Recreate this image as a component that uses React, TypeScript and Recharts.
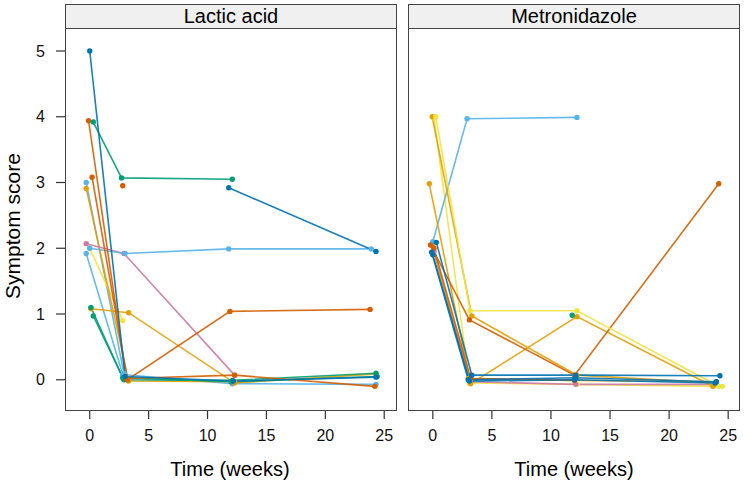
import { FC } from 'react';
import { LineChart, Line, XAxis, YAxis } from 'recharts';

// Okabe-Ito colours used by the original plot
const blue = '#0072B2';
const vermillion = '#D55E00';
const green = '#009E73';
const sky = '#56B4E9';
const orange = '#E69F00';
const yellow = '#F0E442';
const pink = '#CC79A7';

const xTicks = [0, 5, 10, 15, 20, 25];
const yTicks = [0, 1, 2, 3, 4, 5];
const panelNames = ['Lactic acid', 'Metronidazole'];

// [week, score] per subject — Lactic acid arm
const la01 = [[0.0, 5.0], [3.0, 0.05], [12.2, -0.02], [24.3, 0.04]];
const la02 = [[-0.1, 3.94], [3.1, 0.02], [12.3, 0.07], [24.2, -0.1]];
const la03 = [[0.3, 3.92], [2.7, 3.07], [12.1, 3.05]];
const la04 = [[0.2, 3.08], [3.2, 0.0], [11.9, 1.04], [23.8, 1.07]];
const la05 = [[-0.3, 3.0], [2.9, 0.1]];
const la06 = [[-0.3, 2.91], [3.3, -0.02], [12.3, -0.03]];
const la07 = [[-0.3, 2.07], [2.9, 1.92], [12.3, 0.07]];
const la08 = [[0.0, 2.0], [2.8, 0.9]];
const la09 = [[0.0, 2.0], [3.0, 1.92], [11.8, 1.99], [23.9, 1.99]];
const la10 = [[-0.3, 1.92], [2.8, 0.08], [12.1, -0.06], [24.3, -0.07]];
const la11 = [[0.1, 1.1], [2.8, 0.03], [12.0, -0.03], [24.4, 0.05]];
const la12 = [[0.1, 1.08], [3.3, 1.02], [12.3, -0.05], [24.3, 0.09]];
const la13 = [[0.3, 0.97], [2.9, 0.0], [12.1, -0.01], [24.3, 0.1]];
const la14 = [[11.8, 2.92], [24.3, 1.95]];
const la15 = [[2.8, 2.95]];

// Metronidazole arm
const me01 = [[0.25, 4.0], [3.15, 1.05], [12.2, 1.05], [24.2, -0.1]];
const me02 = [[-0.05, 4.0], [3.3, 0.97], [12.2, 0.07], [24.0, -0.05]];
const me03 = [[0.1, 3.98], [3.1, -0.05], [12.2, -0.07], [24.5, -0.1]];
const me04 = [[-0.3, 2.98], [3.2, -0.06], [12.2, 0.96], [23.7, -0.1]];
const me05 = [[0.0, 2.1], [2.9, 3.97], [12.2, 3.99]];
const me06 = [[0.3, 2.09], [3.3, 0.07], [12.1, 0.07], [24.3, 0.06]];
const me07 = [[-0.2, 2.05], [3.1, 0.91], [12.0, 0.07], [24.2, 2.98]];
const me08 = [[0.0, 2.03], [3.0, 0.02], [12.0, -0.01], [24.0, -0.03]];
const me09 = [[-0.1, 1.94], [3.0, 0.0], [12.1, 0.03], [24.0, -0.03]];
const me10 = [[0.0, 1.9], [3.1, -0.02], [12.0, 0.0], [23.9, -0.05]];
const me11 = [[0.1, 1.95], [3.2, -0.03], [12.1, -0.07], [24.0, -0.07]];
const me12 = [[11.8, 0.98]];
const me13 = [[0.1, 2.0], [3.2, 0.02], [12.0, -0.01]];

const lactic = [
  { c: sky, p: la10 }, { c: sky, p: la05 }, { c: yellow, p: la08 },
  { c: orange, p: la06 }, { c: orange, p: la12 }, { c: pink, p: la07 },
  { c: sky, p: la09 }, { c: green, p: la11 }, { c: green, p: la13 },
  { c: vermillion, p: la04 }, { c: vermillion, p: la02 }, { c: vermillion, p: la15 },
  { c: green, p: la03 }, { c: blue, p: la14 }, { c: blue, p: la01 },
];

const metro = [
  { c: yellow, p: me03 }, { c: pink, p: me11 }, { c: orange, p: me08 },
  { c: sky, p: me05 }, { c: orange, p: me04 }, { c: orange, p: me02 },
  { c: vermillion, p: me13 }, { c: vermillion, p: me07 }, { c: green, p: me12 },
  { c: yellow, p: me01 }, { c: blue, p: me09 }, { c: blue, p: me10 },
  { c: blue, p: me06 },
];

const font = '"Liberation Sans", Arial, sans-serif';
const xDomain = [-2.1, 26];
const yDomain = [-0.46, 5.35];

const Panel: FC<{ series: typeof lactic; left: number; width: number; showY: boolean; idx: string }> = ({ series, left, width, showY, idx }) => (
  <div style={{ position: 'absolute', left, top: 0 }}>
    <LineChart width={width} height={484} margin={{ top: 28, right: 4, bottom: 0, left: 0 }}>
      <XAxis
        type="number"
        dataKey="t"
        domain={xDomain}
        ticks={xTicks}
        allowDataOverflow
        height={74}
        axisLine={false}
        tickSize={9}
        tickMargin={11}
        tickLine={{ stroke: '#333', strokeWidth: 1.2 }}
        tick={{ fill: '#111', fontSize: 16, fontFamily: font }}
      />
      <YAxis
        type="number"
        domain={yDomain}
        ticks={yTicks}
        allowDataOverflow
        hide={!showY}
        width={65}
        axisLine={false}
        tickSize={9}
        tickMargin={11}
        tickLine={{ stroke: '#333', strokeWidth: 1.2 }}
        tick={{ fill: '#111', fontSize: 16, fontFamily: font }}
      />
      {series.map((s, i) => (
        <Line
          key={idx + i}
          data={s.p.map(([t, y]) => ({ t, y }))}
          dataKey="y"
          type="linear"
          stroke={s.c}
          strokeWidth={1.6}
          strokeOpacity={0.9}
          dot={{ r: 2.7, fill: s.c, stroke: s.c, strokeWidth: 0 }}
          isAnimationActive={false}
        />
      ))}
    </LineChart>
  </div>
);

const Frame: FC<{ left: number; title: string }> = ({ left, title }) => (
  <>
    <div style={{
      position: 'absolute', left, top: 4, width: 332, height: 407, boxSizing: 'border-box',
      border: '1.5px solid #444', pointerEvents: 'none',
    }} />
    <div style={{
      position: 'absolute', left, top: 4, width: 332, height: 25, boxSizing: 'border-box',
      border: '1.5px solid #444', background: '#F0F0F0', textAlign: 'center',
      fontFamily: font, fontSize: 20, lineHeight: '22px', color: '#000',
    }}>{title}</div>
  </>
);

export default function App() {
  return (
    <div style={{ position: 'absolute', left: 0, top: 0, width: 744, height: 484, background: '#fff', overflow: 'hidden' }}>
      <Panel series={lactic} left={0} width={400} showY idx="la" />
      <Panel series={metro} left={408} width={336} showY={false} idx="me" />
      <Frame left={65} title={panelNames[0]} />
      <Frame left={408} title={panelNames[1]} />
      <svg width={744} height={484} style={{ position: 'absolute', left: 0, top: 0, pointerEvents: 'none' }}>
        <text x={230} y={476} textAnchor="middle" fontFamily={font} fontSize={20} fill="#000">Time (weeks)</text>
        <text x={574} y={476} textAnchor="middle" fontFamily={font} fontSize={20} fill="#000">Time (weeks)</text>
        <text x={20} y={226} transform="rotate(-90 20 226)" textAnchor="middle" fontFamily={font} fontSize={21} fill="#000">Symptom score</text>
      </svg>
    </div>
  );
}
